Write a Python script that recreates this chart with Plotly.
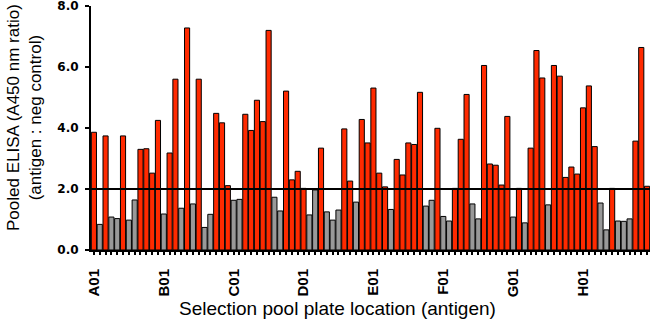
import plotly.graph_objects as go

# 96-well selection plate, row-major (A01..A12, B01..B12, ...)
rows = ["A", "B", "C", "D", "E", "F", "G", "H"]
cols = list(range(1, 13))
wells = [f"{r}{c:02d}" for r in rows for c in cols]

# Pooled ELISA ratio (A450 antigen / A450 negative control)
ratio = [
    3.86, 0.84, 3.74, 1.08, 1.03, 3.74, 0.98, 1.64, 3.30, 3.32, 2.52, 4.25,
    1.18, 3.18, 5.60, 1.37, 7.28, 1.51, 5.60, 0.74, 1.17, 4.48, 4.17, 2.11,
    1.63, 1.66, 4.45, 3.92, 4.91, 4.21, 7.20, 1.73, 1.28, 5.21, 2.30, 2.58,
    2.02, 1.15, 1.97, 3.34, 1.25, 0.98, 1.31, 3.97, 2.26, 1.57, 4.28, 3.51,
    5.31, 2.52, 2.07, 1.33, 2.97, 2.46, 3.51, 3.46, 5.17, 1.44, 1.63, 3.99,
    1.10, 0.95, 2.02, 3.63, 5.10, 1.51, 1.02, 6.05, 2.82, 2.78, 2.13, 4.38,
    1.08, 2.02, 0.89, 3.34, 6.54, 5.64, 1.48, 6.05, 5.70, 2.38, 2.72, 2.49,
    4.66, 5.38, 3.39, 1.54, 0.66, 2.02, 0.95, 0.94, 1.02, 3.57, 6.64, 2.09,
]

threshold = 2.0
y_ticks = [0, 2, 4, 6, 8]

HIT = "#ff2a00"
MISS = "#999999"
bar_colors = [HIT if v >= threshold else MISS for v in ratio]

x_idx = list(range(len(wells)))
tick_text = [w if w.endswith("01") else "" for w in wells]

fig = go.Figure()
fig.add_bar(
    x=x_idx,
    y=ratio,
    text=wells,
    hovertemplate="%{text}: %{y:.2f}<extra></extra>",
    textposition="none",
    marker=dict(color=bar_colors, line=dict(color="black", width=1)),
)

# hit cut-off line
fig.add_shape(
    type="line", xref="paper", yref="y",
    x0=0, x1=1, y0=threshold, y1=threshold,
    line=dict(color="black", width=2),
)

fig.update_xaxes(
    range=[-0.5, len(wells) - 0.5],
    tickmode="array",
    tickvals=x_idx,
    ticktext=tick_text,
    tickangle=-90,
    ticks="outside", ticklen=3, tickwidth=2, tickcolor="black",
    showline=True, linewidth=2, linecolor="black",
    showgrid=False, zeroline=False,
    tickfont=dict(family="Liberation Sans, Arial", size=15, color="black", weight="bold"),
    ticklabelstandoff=8,
)
fig.update_yaxes(
    range=[0, 8],
    tickmode="array",
    tickvals=y_ticks,
    tickformat=".1f",
    ticks="outside", ticklen=4, tickwidth=2, tickcolor="black",
    showline=True, linewidth=2, linecolor="black",
    showgrid=False, zeroline=False,
    tickfont=dict(family="DejaVu Sans", size=12, color="black", weight="bold"),
    ticklabelstandoff=4,
    ticklabeloverflow="allow",
)

fig.add_annotation(
    text="Pooled ELISA (A450 nm ratio)<br>(antigen : neg control)",
    xref="paper", yref="paper",
    x=(25 - 91) / 559, y=(250 - 118) / 244,
    xanchor="center", yanchor="middle",
    textangle=-90, showarrow=False,
    font=dict(family="Liberation Sans, Arial", size=17, color="black"),
)
fig.add_annotation(
    text="Selection pool plate location (antigen)",
    xref="paper", yref="paper",
    x=(337 - 91) / 559, y=(250 - 308) / 244,
    xanchor="center", yanchor="middle",
    showarrow=False,
    font=dict(family="Liberation Sans, Arial", size=19, color="black"),
)

fig.update_layout(
    width=650, height=323,
    margin=dict(l=91, r=0, t=6, b=73),
    plot_bgcolor="white", paper_bgcolor="white",
    showlegend=False,
    bargap=0.12,
)

fig.write_html("out.html")
